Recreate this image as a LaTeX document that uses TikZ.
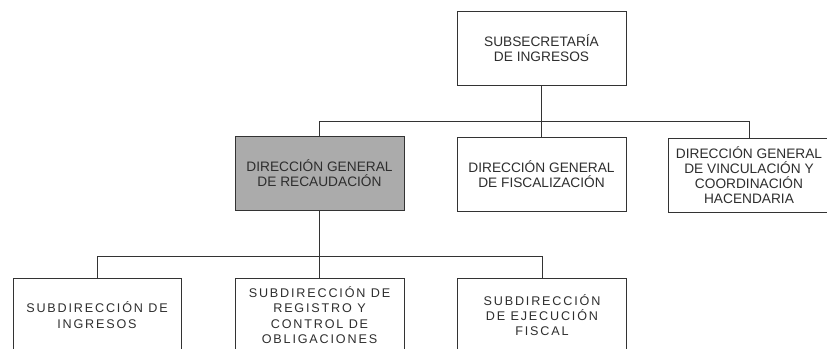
\documentclass[tikz,border=0pt]{standalone}
\usepackage{fontspec}
\setmainfont{Liberation Sans}
\newfontfamily\spacedsans[LetterSpace=14.5]{Liberation Sans}
\definecolor{linec}{HTML}{333333}
\definecolor{textc}{HTML}{2E2E2E}
\definecolor{grayc}{HTML}{ABABAB}
\begin{document}
\begin{tikzpicture}[x=1pt,y=-1pt,
  box/.style={draw=linec, line width=0.9pt, minimum width=169pt, minimum height=74pt,
    inner sep=0pt, align=center, text=textc, font=\fontsize{13.7}{15}\selectfont},
  sbox/.style={box, font=\spacedsans\fontsize{12.6}{15.3}\selectfont},
  conn/.style={draw=linec, line width=0.9pt}]
\useasboundingbox (0,0) rectangle (827,348);
\clip (0,0) rectangle (827,348);
\fill[white] (0,0) rectangle (827,348);
\node[box] (top) at (541.5,48) {SUBSECRETARÍA\\DE INGRESOS};
\node[box, fill=grayc] (dgr) at (319.5,173.5) {DIRECCIÓN GENERAL\\DE RECAUDACIÓN};
\node[box] (dgf) at (541.5,174.5) {DIRECCIÓN GENERAL\\DE FISCALIZACIÓN};
\node[box, minimum width=162pt] (dgv) at (749,175) {DIRECCIÓN GENERAL\\DE VINCULACIÓN Y\\COORDINACIÓN\\HACENDARIA};
\node[sbox, minimum width=168pt] (s1) at (97,315) {SUBDIRECCIÓN DE\\INGRESOS};
\node[sbox] (s2) at (319.5,315) {SUBDIRECCIÓN DE\\REGISTRO Y\\CONTROL DE\\OBLIGACIONES};
\node[sbox] (s3) at (542,315) {SUBDIRECCIÓN\\DE EJECUCIÓN\\FISCAL};
\coordinate (b1) at (0,121);
\coordinate (b2) at (0,256);
\draw[conn] (top.south) -- (top.south |- b1);
\draw[conn] (dgr.north) -- (dgr.north |- b1) -| (dgv.north);
\draw[conn] (dgf.north) -- (dgf.north |- b1);
\draw[conn] (dgr.south) -- (dgr.south |- b2);
\draw[conn] (s1.north) -- (s1.north |- b2) -| (s3.north);
\draw[conn] (s2.north) -- (s2.north |- b2);
\end{tikzpicture}
\end{document}
